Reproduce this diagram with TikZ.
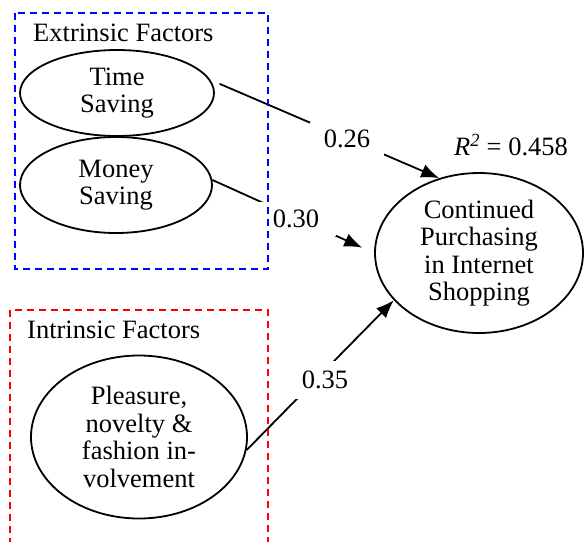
\documentclass[tikz,border=0pt]{standalone}
\usepackage{fontspec}
\setmainfont{Liberation Serif}
\usetikzlibrary{arrows.meta,shapes.geometric}

\begin{document}
\begin{tikzpicture}[x=1pt,y=-1pt,
  every node/.style={font=\fontsize{26.5}{27.5}\selectfont},
  factor/.style={draw,ellipse,line width=1.8pt,inner sep=0pt,align=center},
  groupbox/.style={line width=1.5pt,dash pattern=on 7pt off 5pt},
  title/.style={anchor=west,inner sep=0pt},
  path/.style={line width=1.8pt},
  tip/.style={-{Latex[length=18pt,width=14pt]}},
  coef/.style={fill=white,inner ysep=8pt}]
  \useasboundingbox (0,0) rectangle (585,541);

  % constructs
  \node[factor,minimum width=194pt,minimum height=86pt] (time) at (117,93) {Time\\Saving};
  \node[factor,minimum width=192pt,minimum height=96pt] (money) at (116,185) {Money\\Saving};
  \node[factor,minimum width=216pt,minimum height=163pt] (pleas) at (139,437)
    {Pleasure,\\novelty \&\\fashion in-\\volvement};
  \node[factor,minimum width=208pt,minimum height=160pt] (cont) at (479,253)
    {Continued\\Purchasing\\in Internet\\Shopping};
  \node (rsq) at (511,145) {\textit{R}\textsuperscript{\textit{2}} = 0.458};

  % paths
  \draw[path,tip,shorten <=10pt] (time.8) -- (cont.118);
  \draw[path,tip,shorten >=13pt] (money.3) -- (cont.west);
  \draw[path,tip] (pleas.353) -- (cont.209);

  % coefficients
  \node[coef,inner xsep=14pt] (c1) at (347,139) {0.26};
  \node[coef,inner xsep=17pt] (c2) at (296,219) {0.30};
  \node[coef,inner xsep=10pt,inner ysep=10pt] (c3) at (325,380) {0.35};

  % group boxes
  \draw[groupbox,blue] (15,13) rectangle (268,269);
  \draw[groupbox,red] (10,545) -- (10,310) -- (268,310) -- (268,545);
  \node[title] (extr) at (33,33) {Extrinsic Factors};
  \node[title] (intr) at (27,330) {Intrinsic Factors};
\end{tikzpicture}
\end{document}
